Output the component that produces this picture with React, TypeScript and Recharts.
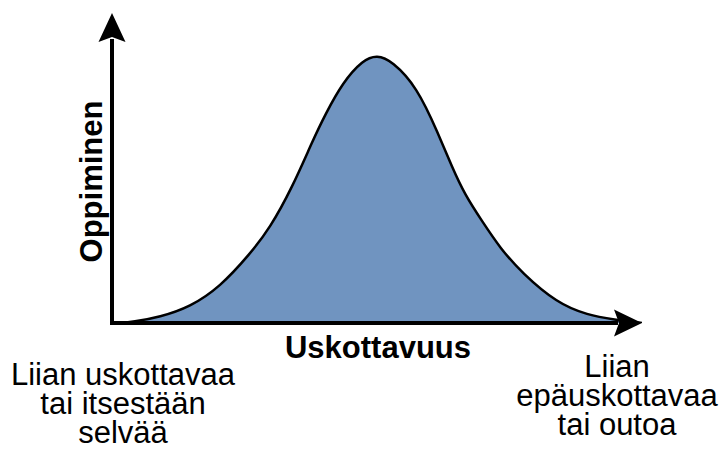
import React from 'react';
import { AreaChart, Area, XAxis, YAxis, ReferenceLine, ReferenceDot } from 'recharts';

// Abstract "plausibility vs learning" bell curve
const plausibility = [0, 10, 20, 48, 78, 108, 138, 158, 180, 201, 213, 231, 251, 265, 280, 305, 326, 340, 353, 370, 388, 410, 445, 475, 505, 520, 530];
const learning = [0, 0, 1, 6, 16, 36, 69, 95, 135, 183, 208, 241, 263, 268, 262, 236, 190, 156, 128, 102, 75, 50, 20, 8, 3, 1, 0];

const xTitle = 'Uskottavuus';
const yTitle = 'Oppiminen';
const leftLabel = ['Liian uskottavaa', 'tai itsestään', 'selvää'];
const rightLabel = ['Liian', 'epäuskottavaa', 'tai outoa'];

const X_MAX = 530;
const Y_MAX = 310;

const data = plausibility.map((x, i) => ({ x, y: learning[i] }));

const UpArrow = (props: any) => {
  const { cx, cy } = props;
  if (cx == null || cy == null) return null;
  return (
    <polygon
      points={`${cx},${cy} ${cx - 13.5},${cy + 29} ${cx},${cy + 24} ${cx + 13.5},${cy + 29}`}
      fill="#000"
    />
  );
};

const RightArrow = (props: any) => {
  const { cx, cy } = props;
  if (cx == null || cy == null) return null;
  return (
    <polygon
      points={`${cx},${cy} ${cx - 28},${cy - 13.5} ${cx - 23},${cy} ${cx - 28},${cy + 13.5}`}
      fill="#000"
    />
  );
};

export default function App() {
  const font = '"Liberation Sans", Arial, sans-serif';
  return (
    <div style={{ position: 'absolute', left: 0, top: 0, width: 720, height: 450, background: '#fff' }}>
      <AreaChart
        width={720}
        height={450}
        data={data}
        margin={{ top: 13, right: 78, bottom: 127, left: 112 }}
      >
        <XAxis type="number" dataKey="x" domain={[0, X_MAX]} allowDataOverflow hide />
        <YAxis type="number" domain={[0, Y_MAX]} allowDataOverflow hide />
        <Area
          type="basis"
          dataKey="y"
          stroke="#000"
          strokeWidth={2.5}
          fill="#7094c0"
          fillOpacity={1}
          isAnimationActive={false}
          dot={false}
          activeDot={false}
        />
        <ReferenceLine
          segment={[{ x: 0, y: 0 }, { x: 0, y: Y_MAX - 26 }]}
          stroke="#000"
          strokeWidth={4}
          ifOverflow="visible"
        />
        <ReferenceLine
          segment={[{ x: -2, y: 0 }, { x: X_MAX - 24, y: 0 }]}
          stroke="#000"
          strokeWidth={4}
          ifOverflow="visible"
        />
        <ReferenceDot x={0} y={Y_MAX} r={0} ifOverflow="visible" shape={UpArrow} />
        <ReferenceDot x={X_MAX} y={0} r={0} ifOverflow="visible" shape={RightArrow} />
      </AreaChart>
      <svg
        width={720}
        height={450}
        style={{ position: 'absolute', left: 0, top: 0, pointerEvents: 'none' }}
      >
        <text x={378} y={358} textAnchor="middle" fontFamily={font} fontWeight="bold" fontSize={31} fill="#000">
          {xTitle}
        </text>
        <text
          x={101.5}
          y={181.5}
          textAnchor="middle"
          fontFamily={font}
          fontWeight="bold"
          fontSize={31}
          fill="#000"
          transform="rotate(-90, 101.5, 181.5)"
        >
          {yTitle}
        </text>
        {leftLabel.map((t, i) => (
          <text key={t} x={123} y={385 + i * 29} textAnchor="middle" fontFamily={font} fontSize={31} fill="#000">
            {t}
          </text>
        ))}
        {rightLabel.map((t, i) => (
          <text key={t} x={617} y={377 + i * 29} textAnchor="middle" fontFamily={font} fontSize={31} fill="#000">
            {t}
          </text>
        ))}
      </svg>
    </div>
  );
}
